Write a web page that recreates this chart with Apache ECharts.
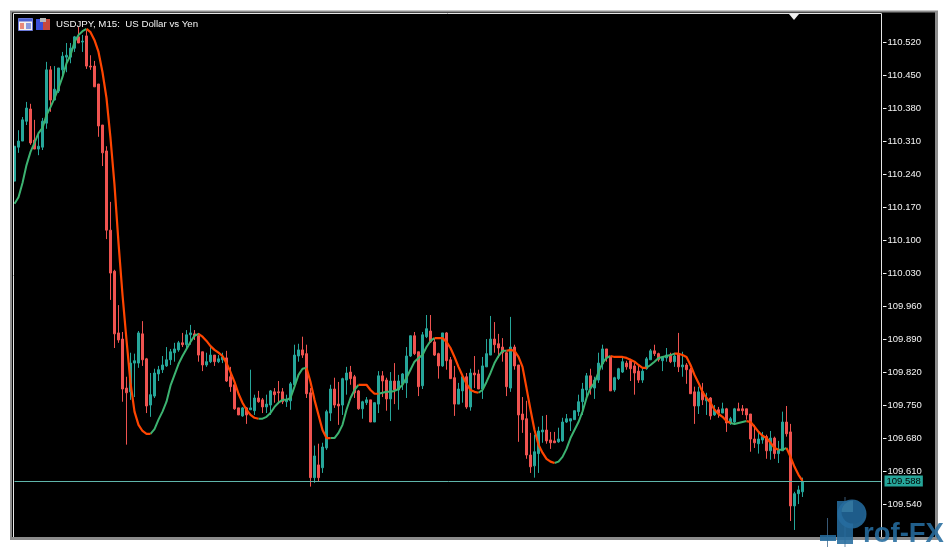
<!DOCTYPE html>
<html><head><meta charset="utf-8">
<script src="https://cdn.jsdelivr.net/npm/echarts@6/dist/echarts.min.js"></script>
<style>html,body{margin:0;padding:0;background:#fff}#c{width:947px;height:547px}</style></head>
<body><div id="c"></div>
<script>
const tickLabels=[109.54,109.61,109.68,109.75,109.82,109.89,109.96,110.03,110.10,110.17,110.24,110.31,110.38,110.45,110.52];
const lastPrice=109.588;
const titleText="USDJPY, M15:  US Dollar vs Yen";
const opens=[110.226,110.298,110.311,110.353,110.379,110.313,110.294,110.298,110.349,110.462,110.398,110.417,110.462,110.489,110.489,110.508,110.532,110.521,110.534,110.470,
110.470,110.432,110.345,110.290,110.122,110.035,109.904,109.891,109.787,109.779,109.840,109.840,109.902,109.849,109.751,109.770,109.817,109.826,109.834,109.847,
109.862,109.868,109.883,109.879,109.900,109.902,109.898,109.864,109.836,109.843,109.857,109.843,109.847,109.851,109.811,109.794,109.745,109.728,109.745,109.741,
109.739,109.766,109.762,109.747,109.751,109.779,109.779,109.779,109.758,109.760,109.794,109.855,109.868,109.860,109.777,109.597,109.624,109.618,109.660,109.734,
109.785,109.753,109.751,109.804,109.821,109.811,109.781,109.743,109.756,109.762,109.715,109.753,109.813,109.804,109.764,109.802,109.783,109.796,109.798,109.855,
109.898,109.864,109.792,109.896,109.908,109.885,109.860,109.834,109.904,109.847,109.809,109.753,109.781,109.811,109.747,109.819,109.817,109.785,109.832,109.857,
109.891,109.881,109.874,109.862,109.787,109.874,109.836,109.732,109.722,109.645,109.622,109.648,109.694,109.698,109.677,109.675,109.673,109.675,109.715,109.717,
109.720,109.737,109.758,109.783,109.813,109.787,109.804,109.838,109.870,109.853,109.783,109.807,109.821,109.840,109.845,109.834,109.823,109.804,109.828,109.847,
109.866,109.860,109.845,109.851,109.857,109.843,109.860,109.832,109.836,109.826,109.779,109.749,109.779,109.760,109.766,109.730,109.741,109.734,109.743,109.713,
109.715,109.743,109.743,109.743,109.732,109.679,109.669,109.677,109.684,109.654,109.681,109.648,109.654,109.715,109.694,109.537,109.563,109.567];
const closes=[110.300,110.311,110.356,110.381,110.307,110.294,110.300,110.353,110.462,110.398,110.421,110.466,110.491,110.493,110.508,110.532,110.519,110.523,110.470,110.468,
110.426,110.343,110.286,110.122,110.031,109.902,109.889,109.785,109.777,109.840,109.845,109.904,109.847,109.749,109.773,109.819,109.826,109.836,109.847,109.864,
109.870,109.883,109.879,109.900,109.904,109.898,109.857,109.836,109.843,109.857,109.843,109.849,109.853,109.802,109.790,109.743,109.730,109.745,109.730,109.745,
109.766,109.758,109.747,109.753,109.781,109.773,109.777,109.758,109.762,109.796,109.857,109.868,109.857,109.775,109.597,109.643,109.597,109.662,109.737,109.785,
109.751,109.749,109.807,109.819,109.807,109.777,109.743,109.758,109.762,109.715,109.756,109.813,109.802,109.764,109.802,109.783,109.802,109.817,109.855,109.898,
109.860,109.790,109.900,109.913,109.885,109.857,109.834,109.904,109.845,109.807,109.753,109.785,109.811,109.747,109.819,109.815,109.785,109.834,109.860,109.891,
109.879,109.872,109.862,109.790,109.874,109.834,109.730,109.720,109.645,109.620,109.652,109.696,109.698,109.675,109.671,109.671,109.679,109.715,109.722,109.722,
109.739,109.758,109.785,109.813,109.787,109.804,109.840,109.870,109.851,109.781,109.809,109.828,109.843,109.832,109.828,109.819,109.804,109.823,109.849,109.866,
109.860,109.847,109.853,109.857,109.843,109.855,109.832,109.836,109.826,109.775,109.749,109.779,109.762,109.766,109.728,109.741,109.734,109.743,109.713,109.722,
109.743,109.739,109.739,109.730,109.679,109.671,109.679,109.684,109.654,109.681,109.648,109.656,109.715,109.690,109.537,109.563,109.571,109.588];
const lows=[110.226,110.286,110.311,110.345,110.303,110.294,110.281,110.292,110.337,110.373,110.398,110.413,110.445,110.457,110.476,110.500,110.519,110.500,110.464,110.462,
110.426,110.320,110.258,110.103,109.974,109.872,109.883,109.758,109.667,109.762,109.768,109.830,109.834,109.734,109.726,109.766,109.802,109.819,109.832,109.836,
109.843,109.864,109.874,109.868,109.879,109.889,109.843,109.823,109.832,109.840,109.834,109.840,109.840,109.800,109.779,109.741,109.730,109.726,109.711,109.741,
109.730,109.756,109.734,109.734,109.730,109.756,109.756,109.753,109.747,109.741,109.794,109.843,109.851,109.766,109.578,109.586,109.588,109.607,109.656,109.717,
109.745,109.709,109.730,109.773,109.794,109.766,109.741,109.722,109.751,109.715,109.715,109.734,109.768,109.739,109.717,109.753,109.741,109.783,109.766,109.853,
109.857,109.770,109.785,109.893,109.883,109.855,109.807,109.832,109.826,109.807,109.728,109.753,109.756,109.743,109.739,109.787,109.785,109.764,109.832,109.857,
109.862,109.851,109.843,109.770,109.779,109.826,109.673,109.692,109.637,109.607,109.597,109.607,109.671,109.669,109.658,109.671,109.671,109.673,109.713,109.696,
109.720,109.728,109.730,109.766,109.773,109.764,109.798,109.826,109.843,109.781,109.779,109.804,109.819,109.826,109.802,109.773,109.798,109.798,109.826,109.847,
109.855,109.843,109.823,109.843,109.840,109.832,109.821,109.811,109.796,109.775,109.711,109.732,109.751,109.730,109.720,109.728,109.724,109.734,109.694,109.709,
109.713,109.739,109.730,109.720,109.652,109.660,109.648,109.669,109.637,109.635,109.637,109.628,109.654,109.684,109.505,109.486,109.541,109.556];
const highs=[110.300,110.334,110.362,110.394,110.390,110.356,110.330,110.360,110.479,110.470,110.470,110.466,110.500,110.519,110.519,110.534,110.553,110.536,110.546,110.493,
110.481,110.432,110.345,110.300,110.182,110.038,109.963,109.906,109.811,109.862,109.860,109.908,109.929,109.851,109.819,109.828,109.834,109.855,109.874,109.870,
109.883,109.887,109.904,109.910,109.921,109.910,109.904,109.864,109.862,109.874,109.857,109.857,109.862,109.866,109.832,109.794,109.745,109.747,109.747,109.826,
109.773,109.781,109.766,109.773,109.783,109.787,109.802,109.787,109.773,109.800,109.879,109.881,109.896,109.879,109.787,109.665,109.669,109.671,109.741,109.794,
109.809,109.800,109.809,109.832,109.834,109.815,109.783,109.760,109.768,109.762,109.756,109.823,109.823,109.809,109.821,109.840,109.815,109.819,109.874,109.898,
109.906,109.864,109.906,109.942,109.942,109.893,109.862,109.904,109.906,109.853,109.834,109.798,109.815,109.819,109.828,109.855,109.826,109.853,109.891,109.940,
109.927,109.902,109.893,109.864,109.938,109.879,109.836,109.768,109.760,109.692,109.688,109.705,109.728,109.730,109.694,109.694,109.703,109.724,109.732,109.722,
109.739,109.773,109.798,109.819,109.828,109.811,109.862,109.879,109.870,109.853,109.811,109.830,109.851,109.845,109.849,109.840,109.834,109.830,109.853,109.870,
109.879,109.862,109.855,109.872,109.862,109.862,109.904,109.864,109.840,109.830,109.790,109.790,109.798,109.777,109.768,109.751,109.747,109.756,109.745,109.726,
109.745,109.756,109.751,109.743,109.732,109.709,109.694,109.694,109.688,109.696,109.684,109.675,109.737,109.749,109.711,109.567,109.580,109.597];
const maValues=[110.178,110.192,110.222,110.260,110.288,110.307,110.328,110.339,110.366,110.383,110.402,110.423,110.447,110.476,110.493,110.521,110.536,110.544,110.549,110.542,
110.525,110.500,110.457,110.402,110.317,110.218,110.095,109.985,109.889,109.798,109.737,109.709,109.696,109.690,109.690,109.700,109.720,109.737,109.758,109.792,
109.815,109.838,109.855,109.870,109.885,109.898,109.902,109.896,109.887,109.876,109.868,109.862,109.855,109.840,109.821,109.800,109.775,109.756,109.741,109.730,
109.724,109.722,109.722,109.726,109.734,109.747,109.756,109.762,109.762,109.766,109.790,109.815,109.828,109.830,109.800,109.762,109.730,109.698,109.681,109.681,
109.681,109.692,109.709,109.741,109.766,109.783,109.794,109.794,109.794,109.783,109.775,109.775,109.777,109.779,109.779,109.781,109.785,109.794,109.809,109.826,
109.843,109.851,109.857,109.874,109.887,109.893,109.893,109.893,109.885,109.872,109.853,109.832,109.813,109.796,109.783,109.779,109.777,109.783,109.800,109.819,
109.840,109.855,109.866,109.866,109.868,109.866,109.853,109.832,109.787,109.741,109.698,109.667,109.650,109.637,109.631,109.628,109.631,109.641,109.658,109.681,
109.698,109.715,109.737,109.766,109.787,109.798,109.821,109.840,109.851,109.855,109.853,109.853,109.853,109.851,109.847,109.843,109.836,109.830,109.830,109.836,
109.843,109.851,109.853,109.855,109.857,109.860,109.860,109.857,109.853,109.836,109.815,109.798,109.779,109.766,109.756,109.741,109.732,109.726,109.717,109.713,
109.711,109.713,109.715,109.717,109.715,109.705,109.694,109.686,109.681,109.671,109.660,109.656,109.656,109.660,109.641,109.620,109.603,109.590];
const risingRuns=[[0,18],[34,46],[61,73],[79,86],[91,105],[116,123],[135,149],[158,165],[179,183],[191,193]];

const emptySlots=20;
const categories=Array.from({length:opens.length+emptySlots},(_,i)=>String(i));
const candles=opens.map((o,i)=>[o,closes[i],lows[i],highs[i]]);
const isRising=i=>risingRuns.some(r=>i>=r[0]&&i<=r[1]);
const maUp=maValues.map((v,i)=>isRising(i)?v:null);
const maDown=maValues.map((v,i)=>{
  const edge=isRising(i)&&(!isRising(i-1)||!isRising(i+1))&&i>0;
  return (!isRising(i)||edge)?v:null;
});
const white='#f4f4f4';
const logoBlue='rgba(38,108,158,0.88)';
const chart=echarts.init(document.getElementById('c'),null,{renderer:'canvas'});
chart.setOption({
  animation:false,
  backgroundColor:'#ffffff',
  grid:{left:14.5,top:14,width:868,height:523,containLabel:false},
  xAxis:{type:'category',data:categories,boundaryGap:false,show:false},
  yAxis:{type:'value',position:'right',min:109.4711,max:110.5805,scale:true,
    axisLine:{show:false},splitLine:{show:false},
    axisTick:{show:true,length:4,customValues:tickLabels,lineStyle:{color:white,width:1}},
    axisLabel:{show:true,margin:5,color:white,fontFamily:'Liberation Sans',fontSize:9.5,
      customValues:tickLabels,formatter:v=>v.toFixed(3)}},
  series:[
    {type:'candlestick',data:candles,barWidth:3,z:2,
      itemStyle:{color:'#26a69a',color0:'#ef5350',borderColor:'#26a69a',borderColor0:'#ef5350',borderWidth:1},
      markLine:{silent:true,symbol:'none',animation:false,
        lineStyle:{color:'#5fb5aa',width:1,type:'solid'},
        label:{show:true,position:'end',distance:2,formatter:()=>lastPrice.toFixed(3),color:'#000',
          fontFamily:'Liberation Sans',fontSize:9.5,backgroundColor:'#26a69a',padding:[1,2,0,2]},
        data:[{yAxis:lastPrice}]}},
    {type:'line',data:maUp,showSymbol:false,symbol:'none',connectNulls:false,z:3,
      lineStyle:{color:'#3cb371',width:2}},
    {type:'line',data:maDown,showSymbol:false,symbol:'none',connectNulls:false,z:4,
      lineStyle:{color:'#ff4500',width:2.2}}
  ],
  graphic:{elements:[
    {type:'rect',z:-20,silent:true,shape:{x:10,y:10.5,width:928,height:529.5},style:{fill:'#8c8c8c'}},
    {type:'rect',z:-19,silent:true,shape:{x:12,y:12.5,width:923,height:524.5},style:{fill:'#000'}},
    {type:'rect',z:50,silent:true,shape:{x:13.5,y:13.5,width:868,height:524},style:{fill:'none',stroke:'#e6e6e6',lineWidth:1}},
    {type:'rect',z:50,silent:true,shape:{x:882,y:14,width:1,height:523},style:{fill:'#000'}},
    {type:'rect',z:50,silent:true,shape:{x:10,y:537,width:928,height:3},style:{fill:'#8c8c8c'}},
    {type:'polygon',z:51,silent:true,shape:{points:[[789,14],[799,14],[794,20]]},style:{fill:'#f0f0f0'}},
    {type:'text',z:52,silent:true,x:56,y:24,style:{text:titleText,fill:'#f4f4f4',fontFamily:'Liberation Sans',fontSize:9.7,textVerticalAlign:'middle'}},
    {type:'rect',z:52,silent:true,shape:{x:18.5,y:18.5,width:14,height:12},style:{fill:'#f6f0ee',stroke:'#6a78d8',lineWidth:1}},
    {type:'rect',z:53,silent:true,shape:{x:19,y:19,width:13,height:2.5},style:{fill:'#4c5fd0'}},
    {type:'rect',z:53,silent:true,shape:{x:20,y:23,width:4,height:6},style:{fill:'#e8887a'}},
    {type:'rect',z:53,silent:true,shape:{x:26,y:23,width:5,height:6},style:{fill:'#8a9ae0'}},
    {type:'rect',z:52,silent:true,shape:{x:36,y:19,width:7,height:11},style:{fill:'#3a4fd8'}},
    {type:'rect',z:52,silent:true,shape:{x:43,y:19,width:7,height:11},style:{fill:'#c8483c'}},
    {type:'rect',z:53,silent:true,shape:{x:40,y:18,width:6,height:4},style:{fill:'#b8b8b8'}},
    {type:'line',z:60,silent:true,shape:{x1:827.5,y1:518,x2:827.5,y2:547},style:{stroke:'rgba(70,110,145,0.8)',lineWidth:1}},
    {type:'line',z:60,silent:true,shape:{x1:845,y1:497,x2:845,y2:547},style:{stroke:'rgba(70,110,145,0.8)',lineWidth:1}},
    {type:'rect',z:61,silent:true,shape:{x:820,y:535,width:16,height:6},style:{fill:logoBlue}},
    {type:'rect',z:61,silent:true,shape:{x:837,y:501,width:16,height:43},style:{fill:logoBlue}},
    {type:'circle',z:61,silent:true,shape:{cx:852,cy:514,r:14.5},style:{fill:logoBlue}},
    {type:'circle',z:62,silent:true,shape:{cx:853,cy:512,r:11.5},style:{fill:'#1e5c8a'}},
    {type:'sector',z:63,silent:true,shape:{cx:853,cy:512,r:11.5,r0:0,startAngle:Math.PI,endAngle:Math.PI*1.5},style:{fill:'#32769f'}},
    {type:'text',z:64,silent:true,x:863,y:520,style:{text:'rof-FX',fill:logoBlue,fontFamily:'Liberation Sans',fontWeight:'bold',fontSize:27.5}}
  ]}
});
</script></body></html>
